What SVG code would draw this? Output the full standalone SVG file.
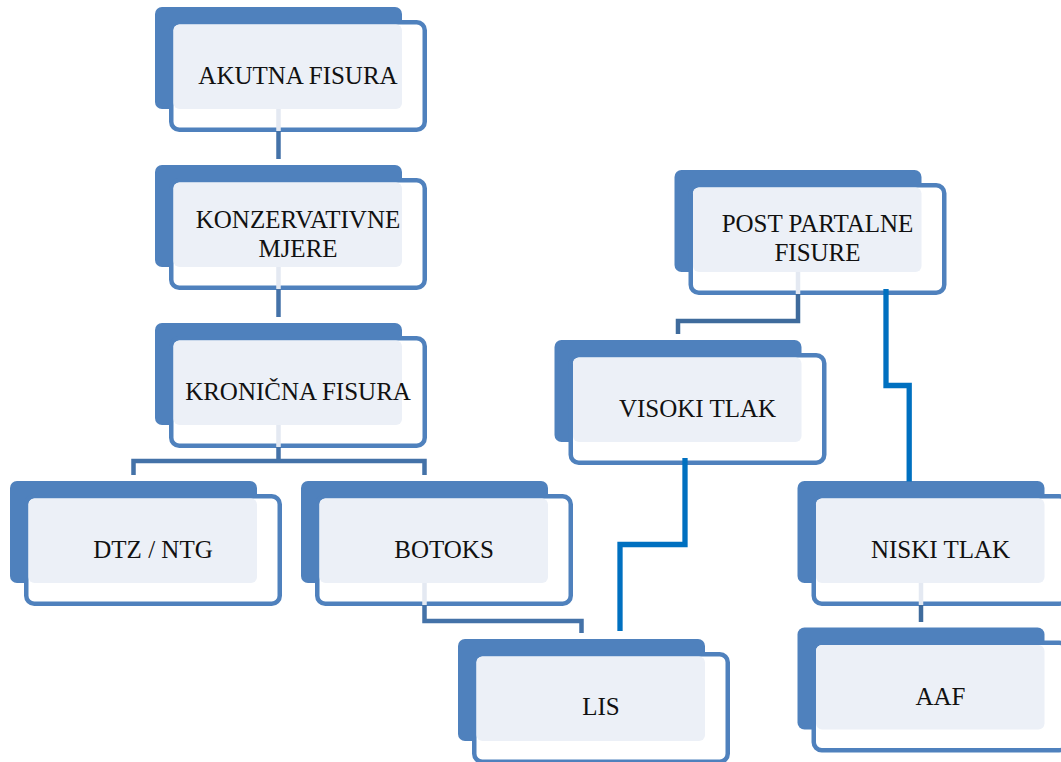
<svg xmlns="http://www.w3.org/2000/svg" width="1061" height="762" viewBox="0 0 1061 762">
<style>
.back{fill:#4F81BD}
.front{fill:#FFFFFF;stroke:#4F81BD;stroke-width:4.5}
.pane{fill:#ECF0F7}
.lbl{font-family:"Liberation Serif","DejaVu Serif",serif;font-size:25px;fill:#111111;text-anchor:middle}
.conn{fill:none;stroke:#4472A8;stroke-width:4.5;stroke-linejoin:miter;stroke-linecap:butt}
.conn.dk{stroke:#3F6B9C}
.ghost{fill:none;stroke:#E4E9F2;stroke-width:4.5}
.blue{fill:none;stroke:#0070C0;stroke-width:5.3;stroke-linejoin:miter;stroke-linecap:butt}
</style>
<defs>
<g id="box">
<rect class="back" x="0" y="0" width="247" height="102" rx="7"/>
<rect class="front" x="16.25" y="15.25" width="253.5" height="107.5" rx="8"/>
<rect class="pane" x="18.5" y="17.5" width="228.5" height="84.5" rx="6"/>
</g>
</defs>
<rect width="1061" height="762" fill="#FFFFFF"/>
<g id="nodes" font-family="Liberation Serif, DejaVu Serif, serif">
<g id="n-akutna" transform="translate(155,7)"><use href="#box"/><text class="lbl" x="143" y="76.5">AKUTNA FISURA</text></g>
<g id="n-konzervativne" transform="translate(155,165)"><use href="#box"/><text class="lbl" x="143" y="63">KONZERVATIVNE</text><text class="lbl" x="143" y="92">MJERE</text></g>
<g id="n-kronicna" transform="translate(155,323)"><use href="#box"/><text class="lbl" x="143" y="77">KRONIČNA FISURA</text></g>
<g id="n-dtz" transform="translate(10,481)"><use href="#box"/><text class="lbl" x="143" y="77">DTZ / NTG</text></g>
<g id="n-botoks" transform="translate(301,481)"><use href="#box"/><text class="lbl" x="143" y="77">BOTOKS</text></g>
<g id="n-lis" transform="translate(458,639)"><use href="#box"/><text class="lbl" x="143" y="76">LIS</text></g>
<g id="n-post" transform="translate(674.5,170)"><use href="#box"/><text class="lbl" x="143" y="62">POST PARTALNE</text><text class="lbl" x="143" y="91">FISURE</text></g>
<g id="n-visoki" transform="translate(554.5,340)"><use href="#box"/><text class="lbl" x="143" y="77">VISOKI TLAK</text></g>
<g id="n-niski" transform="translate(797.5,481)"><use href="#box"/><text class="lbl" x="143" y="77">NISKI TLAK</text></g>
<g id="n-aaf" transform="translate(797.5,627.5)"><use href="#box"/><text class="lbl" x="143" y="77">AAF</text></g>
</g>
<g id="connectors">
<path class="ghost" d="M278.5,109V131 M278.5,267V289 M278.5,425V447 M424.5,583V605 M798,272V294 M921,583V605"/>
<path class="conn" d="M278.5,131V159"/>
<path class="conn" d="M278.5,289V317"/>
<path class="conn" d="M278.5,447V461 M133.5,475V461H424.5V475"/>
<path class="conn" d="M424.5,605V621H581.5V633"/>
<path class="conn dk" d="M798,294V321H678V334"/>
<path class="conn dk" d="M921,605V622"/>
<path class="blue" d="M886,289V385.5H909.2V481.5"/>
<path class="blue" d="M685,458V544.5H620V631"/>
</g>
</svg>
